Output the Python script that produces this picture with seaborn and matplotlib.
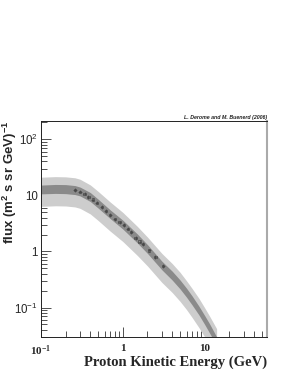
import numpy as np
import pandas as pd
import seaborn as sns
import matplotlib.pyplot as plt


#1. Data
# model band (energy in GeV, flux)
band_energy = [0.1, 0.15, 0.2, 0.26, 0.3, 0.4, 0.5, 0.7, 1.0, 1.5, 2.0, 3.0, 4.0, 5.0, 6.0,
               7.0, 8.5, 10.0, 11.5, 14.0]
dark_hi = [15.2, 15.6, 15.5, 14.9, 14.0, 11.2, 8.5, 5.5, 3.6, 2.05, 1.32, 0.67, 0.446, 0.31, 0.221,
           0.162, 0.106, 0.072, 0.051, 0.030]
dark_lo = [10.6, 10.8, 10.7, 10.3, 9.75, 7.75, 5.9, 3.85, 2.5, 1.42, 0.92, 0.47, 0.31, 0.215, 0.153,
           0.112, 0.074, 0.050, 0.035, 0.021]
light_hi = [21.0, 21.5, 21.3, 20.5, 19.3, 15.3, 11.7, 7.6, 4.95, 2.8, 1.8, 0.92, 0.61, 0.425, 0.30,
            0.22, 0.146, 0.099, 0.070, 0.042]
light_lo = [6.35, 6.5, 6.45, 6.2, 5.85, 4.65, 3.55, 2.3, 1.5, 0.85, 0.55, 0.28, 0.186, 0.129, 0.092,
            0.067, 0.044, 0.030, 0.021, 0.0126]

# measured points
data_energy = [0.26, 0.30, 0.34, 0.38, 0.43, 0.48, 0.55, 0.62, 0.70, 0.80, 0.91, 1.03,
               1.15, 1.27, 1.43, 1.60, 1.75, 2.10, 2.50, 3.10]
data_flux = [12.5, 11.6, 10.7, 9.4, 8.4, 7.4, 6.2, 5.3, 4.5, 3.75, 3.3, 2.95,
             2.55, 2.2, 1.75, 1.5, 1.35, 1.04, 0.79, 0.55]
data_flux_err = [0.9, 0.8, 0.75, 0.65, 0.6, 0.5, 0.45, 0.38, 0.32, 0.27, 0.24, 0.21,
                 0.18, 0.16, 0.13, 0.11, 0.1, 0.08, 0.06, 0.045]
data_energy_err = [0.012, 0.014, 0.016, 0.018, 0.02, 0.022, 0.025, 0.028, 0.032, 0.036, 0.04, 0.045,
                   0.05, 0.055, 0.062, 0.07, 0.075, 0.09, 0.11, 0.13]

xticks = [0.1, 1, 10]
xtick_labels = ['$10^{-1}$', '1', '10']
yticks = [0.1, 1, 10, 100]
ytick_labels = ['$10^{-1}$', '1', '10', '$10^{2}$']

points = pd.DataFrame({'Energy': data_energy, 'Flux': data_flux})


#2. Plotting
sns.set_style("ticks")
plt.rcParams['font.family'] = ['Liberation Sans', 'DejaVu Sans']
plt.rcParams['mathtext.default'] = 'regular'

fig = plt.figure(figsize=(2.91, 3.76), dpi=100)
ax = fig.add_axes([0.141, 0.104, 0.777, 0.574])
ax.set_xscale('log')
ax.set_yscale('log')

ax.fill_between(band_energy, light_lo, light_hi, color='#cdcdcd', linewidth=0)
ax.fill_between(band_energy, dark_lo, dark_hi, color='#8a8a8a', linewidth=0)

ax.errorbar(data_energy, data_flux, yerr=data_flux_err, xerr=data_energy_err,
            fmt='none', ecolor='#3a3a3a', elinewidth=0.4, capsize=0)
sns.scatterplot(x='Energy', y='Flux', data=points, ax=ax, marker='s', s=2.5,
                facecolor='none', edgecolor='#3a3a3a', linewidth=0.4)

ax.set_xlim(0.1, 58)
ax.set_ylim(0.03, 210)

ax.set_xticks(xticks)
ax.set_xticklabels(xtick_labels, family=['Liberation Serif', 'DejaVu Serif'],
                   weight='bold', fontsize=8)
ax.set_yticks(yticks)
ax.set_yticklabels(ytick_labels, fontsize=8.3)
ax.tick_params(which='both', direction='in', top=False, right=False, width=0.6, color='#333333')
ax.tick_params(which='major', length=7, pad=2.5)
ax.tick_params(which='minor', length=4)
ax.tick_params(axis='x', which='major', pad=5)

for side in ['left', 'bottom', 'top']:
    ax.spines[side].set_linewidth(0.7)
    ax.spines[side].set_color('#222222')
ax.spines['right'].set_linewidth(1.5)
ax.spines['right'].set_color('#aaaaaa')

ax.set_xlabel('Proton Kinetic Energy (GeV)', family=['Liberation Serif', 'DejaVu Serif'],
              weight='bold', fontsize=10.5)
ax.xaxis.set_label_coords(1.0, -0.085)
ax.xaxis.label.set_horizontalalignment('right')
ax.set_ylabel('flux (m$^{2}$ s sr GeV)$^{-1}$', weight='bold', fontsize=9.5)
ax.yaxis.set_label_coords(-0.136, 1.0)
ax.yaxis.label.set_horizontalalignment('right')
ax.yaxis.label.set_verticalalignment('center')

fig.text(0.917, 0.682, 'L. Derome and M. Buenerd (2006)', fontsize=3.8,
         style='italic', weight='bold', ha='right', va='bottom', color='#222222')

fig.savefig('out.png', dpi=100)
